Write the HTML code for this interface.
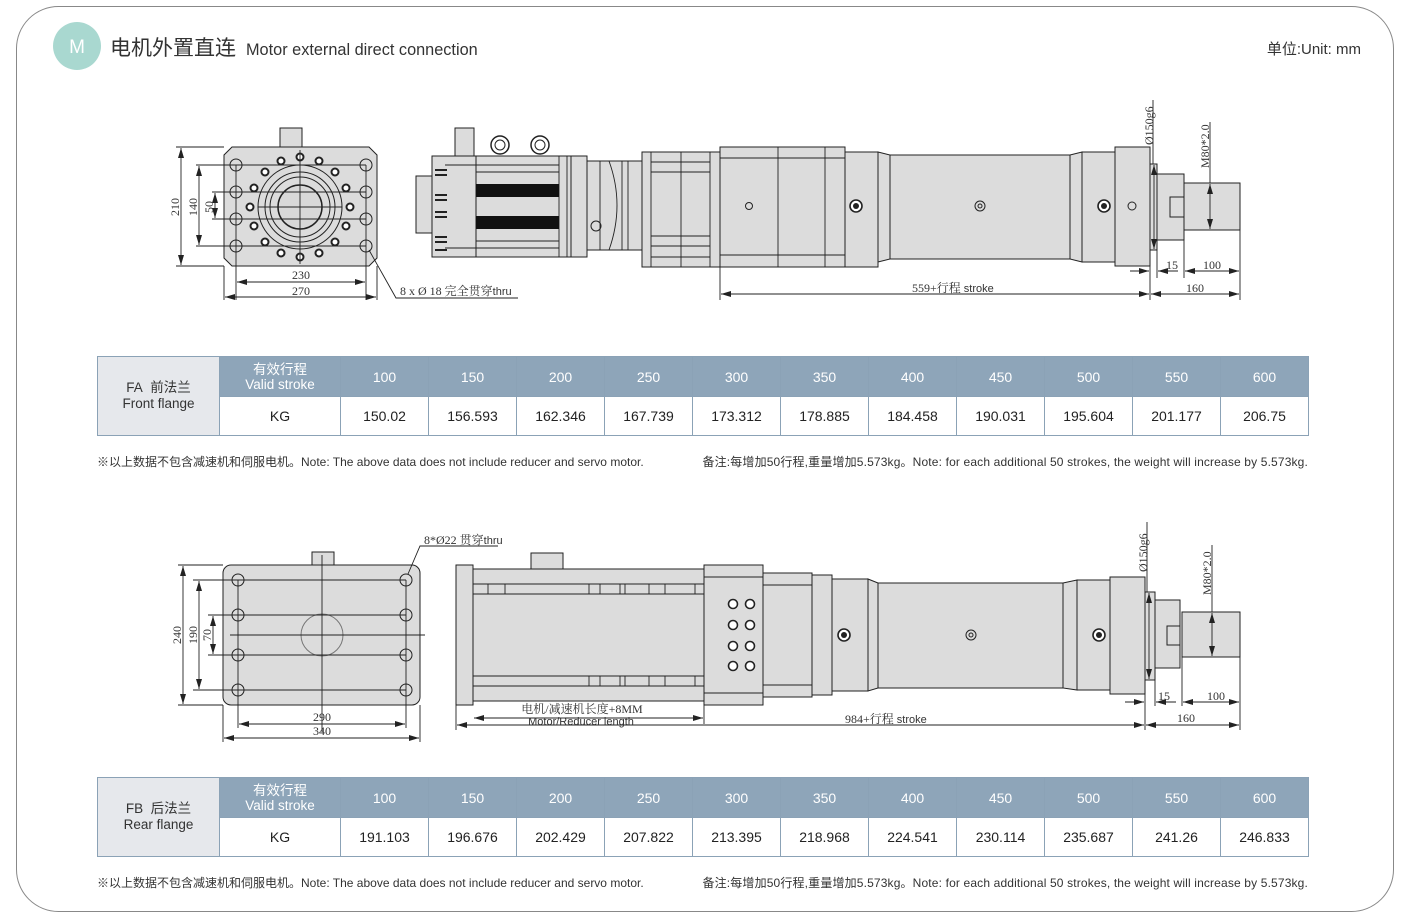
<!DOCTYPE html>
<html><head><meta charset="utf-8"><style>
html,body{margin:0;padding:0;background:#fff;}
body{width:1408px;height:924px;overflow:hidden;position:relative;font-family:"Liberation Sans","Noto Sans CJK SC",sans-serif;}
svg{position:absolute;left:0;top:0;}
.d{fill:#dcdcdc;stroke:#222;stroke-width:1}
.l{stroke:#222;stroke-width:0.9;fill:none}
.t{font-family:"Liberation Serif","Noto Serif CJK SC",serif;font-size:12px;fill:#333}
.ts{font-family:"Liberation Sans","Noto Sans CJK SC",sans-serif;font-size:11px;fill:#333}
table{position:absolute;border-collapse:collapse;font-family:"Liberation Sans","Noto Sans CJK SC",sans-serif;font-size:14px;color:#222;table-layout:fixed}
td{border:1.5px solid #8ba2b6;text-align:center;padding:0;}
.h td{background:#8ea5b9;color:#fff;height:39px;font-size:14px}
.r td{height:38px;background:#fff}
td.f{background:#e6e8ec;color:#333;line-height:16px;font-size:13.5px}
td.v{line-height:15px;font-size:13.5px}
.note{position:absolute;font-size:12px;color:#333;font-family:"Liberation Sans","Noto Sans CJK SC",sans-serif;white-space:nowrap}
</style></head><body>
<svg width="1408" height="924" viewBox="0 0 1408 924">
<defs>
<marker id="a" viewBox="0 0 10 6" refX="10" refY="3" markerWidth="10" markerHeight="6" orient="auto-start-reverse" markerUnits="userSpaceOnUse"><path d="M0,0L10,3L0,6z" fill="#222"/></marker>
</defs>
<rect x="16.5" y="6.5" width="1377" height="905" rx="42" fill="none" stroke="#888" stroke-width="1"/>
<circle cx="77" cy="46" r="24" fill="#a9d8d0"/>
<text x="77" y="53" text-anchor="middle" font-size="19" fill="#fff" font-family="Liberation Sans,sans-serif">M</text>
<text x="110" y="55" font-size="21" fill="#333" font-family="Noto Sans CJK SC,sans-serif">电机外置直连</text>
<text x="246" y="55" font-size="16.3" fill="#333" font-family="Liberation Sans,sans-serif">Motor external direct connection</text>
<text x="1361" y="54" text-anchor="end" font-size="15" fill="#333" font-family="Liberation Sans,Noto Sans CJK SC,sans-serif">单位:Unit: mm</text>

<!-- ===== TOP: front flange view ===== -->
<rect class="d" x="280" y="128" width="22" height="19"/>
<path class="d" d="M232,147H369L377,155V258L369,266H232L224,258V155Z"/>
<circle cx="300" cy="207" r="42" fill="none" stroke="#222"/>
<circle cx="300" cy="207" r="35" fill="none" stroke="#222"/>
<circle cx="300" cy="207" r="30" fill="none" stroke="#222"/>
<circle cx="300" cy="207" r="22" fill="#d8d8d8" stroke="#222" stroke-width="1.5"/>
<g fill="#fff" stroke="#222" stroke-width="2">
<circle cx="300" cy="157" r="3.5"/><circle cx="319" cy="161" r="3.5"/><circle cx="335" cy="172" r="3.5"/><circle cx="346" cy="188" r="3.5"/><circle cx="350" cy="207" r="3.5"/><circle cx="346" cy="226" r="3.5"/><circle cx="335" cy="242" r="3.5"/><circle cx="319" cy="253" r="3.5"/><circle cx="300" cy="257" r="3.5"/><circle cx="281" cy="253" r="3.5"/><circle cx="265" cy="242" r="3.5"/><circle cx="254" cy="226" r="3.5"/><circle cx="250" cy="207" r="3.5"/><circle cx="254" cy="188" r="3.5"/><circle cx="265" cy="172" r="3.5"/><circle cx="281" cy="161" r="3.5"/>
</g>
<g fill="none" stroke="#222"><circle cx="236" cy="165" r="6"/><circle cx="236" cy="192" r="6"/><circle cx="236" cy="219" r="6"/><circle cx="236" cy="246" r="6"/><circle cx="366" cy="165" r="6"/><circle cx="366" cy="192" r="6"/><circle cx="366" cy="219" r="6"/><circle cx="366" cy="246" r="6"/></g>
<g class="l"><path d="M196,165H366M196,246H366M212,192H366M212,219H366M258,207H342M300,150V264M236,165V300M366,165V300M224,266V300M377,266V300M176,147H224M176,266H224"/></g>
<line class="l" x1="181" y1="148" x2="181" y2="265" marker-start="url(#a)" marker-end="url(#a)"/>
<line class="l" x1="199" y1="166" x2="199" y2="245" marker-start="url(#a)" marker-end="url(#a)"/>
<line class="l" x1="215" y1="193" x2="215" y2="218" marker-start="url(#a)" marker-end="url(#a)"/>
<line class="l" x1="237" y1="282" x2="365" y2="282" marker-start="url(#a)" marker-end="url(#a)"/>
<line class="l" x1="225" y1="297" x2="376" y2="297" marker-start="url(#a)" marker-end="url(#a)"/>
<text class="t" transform="translate(179,207) rotate(-90)" text-anchor="middle">210</text>
<text class="t" transform="translate(197,207) rotate(-90)" text-anchor="middle">140</text>
<text class="t" transform="translate(213,207) rotate(-90)" text-anchor="middle">50</text>
<text class="t" x="301" y="279" text-anchor="middle">230</text>
<text class="t" x="301" y="295" text-anchor="middle">270</text>
<path class="l" d="M369,250L396,298H518"/>
<text class="t" x="400" y="295">8 x Ø 18 完全贯穿<tspan font-family="Liberation Sans" font-size="11">thru</tspan></text>

<!-- ===== TOP: side view ===== -->
<rect class="d" x="455" y="128" width="19" height="28"/>
<g fill="#fff" stroke="#222" stroke-width="1.5"><circle cx="500" cy="145" r="9"/><circle cx="540" cy="145" r="9"/></g>
<g fill="none" stroke="#222"><circle cx="500" cy="145" r="5"/><circle cx="540" cy="145" r="5"/></g>
<rect class="d" x="416" y="176" width="16" height="57"/>
<rect class="d" x="432" y="156" width="139" height="101"/>
<rect class="d" x="432" y="156" width="44" height="101"/>
<g class="l"><path d="M476,156V257M559,156V257M567,156V257M445,165H559M445,248H559M476,172H559M476,241H559"/></g>
<rect x="476" y="184" width="83" height="13" fill="#111"/>
<rect x="476" y="216" width="83" height="13" fill="#111"/>
<g stroke="#222" stroke-width="2"><path d="M435,170h12M435,175h12M435,195h12M435,200h12M435,212h12M435,217h12M435,237h12M435,242h12M435,250h12"/></g>
<rect class="d" x="571" y="156" width="16" height="101"/>
<rect class="d" x="587" y="161" width="55" height="89"/>
<path class="l" d="M600,161V250M609,161Q625,205 609,250M622,161V250M628,161V250"/>
<circle cx="596" cy="226" r="5" fill="none" stroke="#222"/>
<rect class="d" x="642" y="152" width="78" height="115"/>
<g class="l"><path d="M651,152V267M681,152V267M710,152V267M651,162H710M651,172H710M651,236H710M651,246H710M651,257H710"/></g>
<rect class="d" x="720" y="147" width="125" height="120"/>
<g class="l"><path d="M778,147V267M825,147V267M720,158H845M720,255H845"/></g>
<circle cx="749" cy="206" r="3.5" fill="none" stroke="#222"/>
<rect class="d" x="845" y="152" width="33" height="115"/>
<path class="d" d="M878,152L890,155V259L878,262Z"/>
<rect class="d" x="890" y="155" width="180" height="104"/>
<path class="d" d="M1070,155L1082,152V262L1070,259Z"/>
<rect class="d" x="1082" y="152" width="33" height="110"/>
<rect class="d" x="1115" y="147" width="35" height="119"/>
<rect class="d" x="1150" y="164" width="7" height="86"/>
<rect class="d" x="1157" y="174" width="27" height="66"/>
<rect class="d" x="1170" y="197" width="14" height="20"/>
<rect class="d" x="1184" y="183" width="56" height="47"/>
<g fill="#fff" stroke="#222" stroke-width="1.6"><circle cx="856" cy="206" r="6"/><circle cx="1104" cy="206" r="6"/></g>
<g fill="#222"><circle cx="856" cy="206" r="3"/><circle cx="1104" cy="206" r="3"/></g>
<circle cx="980" cy="206" r="5" fill="none" stroke="#222"/><circle cx="980" cy="206" r="2" fill="none" stroke="#222"/>
<circle cx="1132" cy="206" r="4" fill="none" stroke="#222"/>
<g class="l"><path d="M720,267V300M1150,266V300M1157,250V278M1184,240V278M1240,230V300M1153,100V164M1210,122V183"/></g>
<line class="l" x1="1154" y1="165" x2="1154" y2="249" marker-start="url(#a)" marker-end="url(#a)"/>
<line class="l" x1="1210" y1="184" x2="1210" y2="229" marker-start="url(#a)" marker-end="url(#a)"/>
<line class="l" x1="721" y1="294" x2="1149" y2="294" marker-start="url(#a)" marker-end="url(#a)"/>
<line class="l" x1="1151" y1="294" x2="1239" y2="294" marker-start="url(#a)" marker-end="url(#a)"/>
<line class="l" x1="1130" y1="271" x2="1149" y2="271" marker-end="url(#a)"/>
<line class="l" x1="1178" y1="271" x2="1158" y2="271" marker-end="url(#a)"/>
<line class="l" x1="1185" y1="271" x2="1239" y2="271" marker-start="url(#a)" marker-end="url(#a)"/>
<text class="t" x="912" y="292">559+行程 <tspan font-family="Liberation Sans" font-size="11">stroke</tspan></text>
<text class="t" x="1195" y="292" text-anchor="middle">160</text>
<text class="t" x="1172" y="269" text-anchor="middle">15</text>
<text class="t" x="1212" y="269" text-anchor="middle">100</text>
<text class="t" transform="translate(1153,145) rotate(-90)">Ø150g6</text>
<text class="t" transform="translate(1209,168) rotate(-90)" font-size="11">M80*2.0</text>

<!-- ===== BOTTOM: rear flange view ===== -->
<rect class="d" x="312" y="552" width="22" height="13"/>
<rect class="d" x="223" y="565" width="197" height="140" rx="8"/>
<circle cx="322" cy="635" r="21" fill="none" stroke="#777"/>
<g fill="none" stroke="#222"><circle cx="238" cy="580" r="6"/><circle cx="238" cy="615" r="6"/><circle cx="238" cy="655" r="6"/><circle cx="238" cy="690" r="6"/><circle cx="406" cy="580" r="6"/><circle cx="406" cy="615" r="6"/><circle cx="406" cy="655" r="6"/><circle cx="406" cy="690" r="6"/></g>
<g class="l"><path d="M193,580H406M193,690H406M208,615H406M208,655H406M230,635H425M322,555V732M238,580V728M406,580V728M223,705V742M420,705V742M178,565H223M178,705H223"/></g>
<line class="l" x1="183" y1="566" x2="183" y2="704" marker-start="url(#a)" marker-end="url(#a)"/>
<line class="l" x1="199" y1="581" x2="199" y2="689" marker-start="url(#a)" marker-end="url(#a)"/>
<line class="l" x1="213" y1="616" x2="213" y2="654" marker-start="url(#a)" marker-end="url(#a)"/>
<line class="l" x1="239" y1="724" x2="405" y2="724" marker-start="url(#a)" marker-end="url(#a)"/>
<line class="l" x1="224" y1="738" x2="419" y2="738" marker-start="url(#a)" marker-end="url(#a)"/>
<text class="t" transform="translate(181,635) rotate(-90)" text-anchor="middle">240</text>
<text class="t" transform="translate(197,635) rotate(-90)" text-anchor="middle">190</text>
<text class="t" transform="translate(211,635) rotate(-90)" text-anchor="middle">70</text>
<text class="t" x="322" y="721" text-anchor="middle">290</text>
<text class="t" x="322" y="735" text-anchor="middle">340</text>
<path class="l" d="M408,574L420,546H498"/>
<text class="t" x="424" y="544">8*Ø22 贯穿<tspan font-family="Liberation Sans" font-size="11">thru</tspan></text>

<!-- ===== BOTTOM: side view ===== -->
<rect class="d" x="531" y="553" width="32" height="16"/>
<rect class="d" x="456" y="565" width="17" height="140"/>
<rect class="d" x="473" y="569" width="231" height="132"/>
<g class="l"><path d="M473,584H704M473,594H704M473,676H704M473,686H704M473,569V701"/></g>
<g class="l"><path d="M488,584V594M505,584V594M589,584V594M600,584V594M620,584V594M625,584V594M649,584V594M665,584V594M695,584V594M589,676V686M600,676V686M620,676V686M625,676V686M649,676V686M665,676V686M695,676V686"/></g>
<rect class="d" x="704" y="565" width="59" height="140"/>
<g class="l"><path d="M704,577H763M704,693H763"/></g>
<g fill="#fff" stroke="#222" stroke-width="1.6"><circle cx="733" cy="604" r="4.5"/><circle cx="750" cy="604" r="4.5"/><circle cx="733" cy="625" r="4.5"/><circle cx="750" cy="625" r="4.5"/><circle cx="733" cy="646" r="4.5"/><circle cx="750" cy="646" r="4.5"/><circle cx="733" cy="666" r="4.5"/><circle cx="750" cy="666" r="4.5"/></g>
<rect class="d" x="763" y="573" width="49" height="124"/>
<g class="l"><path d="M763,585H812M763,685H812"/></g>
<rect class="d" x="812" y="575" width="20" height="120"/>
<rect class="d" x="832" y="579" width="36" height="112"/>
<path class="d" d="M868,579L878,583V688L868,691Z"/>
<rect class="d" x="878" y="583" width="185" height="105"/>
<path class="d" d="M1063,583L1077,580V690L1063,688Z"/>
<rect class="d" x="1077" y="580" width="33" height="110"/>
<rect class="d" x="1110" y="577" width="35" height="117"/>
<rect class="d" x="1145" y="592" width="10" height="88"/>
<rect class="d" x="1155" y="600" width="25" height="68"/>
<rect class="d" x="1167" y="626" width="13" height="19"/>
<rect class="d" x="1182" y="612" width="58" height="45"/>
<g fill="#fff" stroke="#222" stroke-width="1.6"><circle cx="844" cy="635" r="6"/><circle cx="1099" cy="635" r="6"/></g>
<g fill="#222"><circle cx="844" cy="635" r="3"/><circle cx="1099" cy="635" r="3"/></g>
<circle cx="971" cy="635" r="5" fill="none" stroke="#222"/><circle cx="971" cy="635" r="2" fill="none" stroke="#222"/>
<g class="l"><path d="M456,705V730M704,705V724M1145,694V730M1155,680V706M1182,657V706M1240,657V730M1147,522V592M1212,545V612"/></g>
<line class="l" x1="1149" y1="593" x2="1149" y2="679" marker-start="url(#a)" marker-end="url(#a)"/>
<line class="l" x1="1212" y1="613" x2="1212" y2="656" marker-start="url(#a)" marker-end="url(#a)"/>
<line class="l" x1="474" y1="718" x2="703" y2="718" marker-start="url(#a)" marker-end="url(#a)"/>
<line class="l" x1="457" y1="725" x2="1144" y2="725" marker-start="url(#a)" marker-end="url(#a)"/>
<line class="l" x1="1146" y1="725" x2="1239" y2="725" marker-start="url(#a)" marker-end="url(#a)"/>
<line class="l" x1="1125" y1="702" x2="1144" y2="702" marker-end="url(#a)"/>
<line class="l" x1="1176" y1="702" x2="1156" y2="702" marker-end="url(#a)"/>
<line class="l" x1="1183" y1="702" x2="1239" y2="702" marker-start="url(#a)" marker-end="url(#a)"/>
<text class="t" x="582" y="713" text-anchor="middle">电机/减速机长度+8MM</text>
<text class="ts" x="581" y="725" text-anchor="middle">Motor/Reducer length</text>
<text class="t" x="845" y="723">984+行程 <tspan font-family="Liberation Sans" font-size="11">stroke</tspan></text>
<text class="t" x="1186" y="722" text-anchor="middle">160</text>
<text class="t" x="1164" y="700" text-anchor="middle">15</text>
<text class="t" x="1216" y="700" text-anchor="middle">100</text>
<text class="t" transform="translate(1147,572) rotate(-90)">Ø150g6</text>
<text class="t" transform="translate(1211,595) rotate(-90)" font-size="11">M80*2.0</text>
</svg>

<table style="left:97px;top:356px;width:1211px">
<colgroup><col style="width:122px"><col style="width:121px"><col span="11" style="width:88px"></colgroup>
<tr class="h"><td class="f" rowspan="2">FA&nbsp; 前法兰<br>Front flange</td><td class="v">有效行程<br>Valid stroke</td><td>100</td><td>150</td><td>200</td><td>250</td><td>300</td><td>350</td><td>400</td><td>450</td><td>500</td><td>550</td><td>600</td></tr>
<tr class="r"><td>KG</td><td>150.02</td><td>156.593</td><td>162.346</td><td>167.739</td><td>173.312</td><td>178.885</td><td>184.458</td><td>190.031</td><td>195.604</td><td>201.177</td><td>206.75</td></tr>
</table>
<div class="note" style="left:97px;top:453px">※以上数据不包含减速机和伺服电机。Note: The above data does not include reducer and servo motor.</div>
<div class="note" style="right:100px;top:453px;letter-spacing:0.15px">备注:每增加50行程,重量增加5.573kg。Note: for each additional 50 strokes, the weight will increase by 5.573kg.</div>

<table style="left:97px;top:777px;width:1211px">
<colgroup><col style="width:122px"><col style="width:121px"><col span="11" style="width:88px"></colgroup>
<tr class="h"><td class="f" rowspan="2">FB&nbsp; 后法兰<br>Rear flange</td><td class="v">有效行程<br>Valid stroke</td><td>100</td><td>150</td><td>200</td><td>250</td><td>300</td><td>350</td><td>400</td><td>450</td><td>500</td><td>550</td><td>600</td></tr>
<tr class="r"><td>KG</td><td>191.103</td><td>196.676</td><td>202.429</td><td>207.822</td><td>213.395</td><td>218.968</td><td>224.541</td><td>230.114</td><td>235.687</td><td>241.26</td><td>246.833</td></tr>
</table>
<div class="note" style="left:97px;top:874px">※以上数据不包含减速机和伺服电机。Note: The above data does not include reducer and servo motor.</div>
<div class="note" style="right:100px;top:874px;letter-spacing:0.15px">备注:每增加50行程,重量增加5.573kg。Note: for each additional 50 strokes, the weight will increase by 5.573kg.</div>
</body></html>
